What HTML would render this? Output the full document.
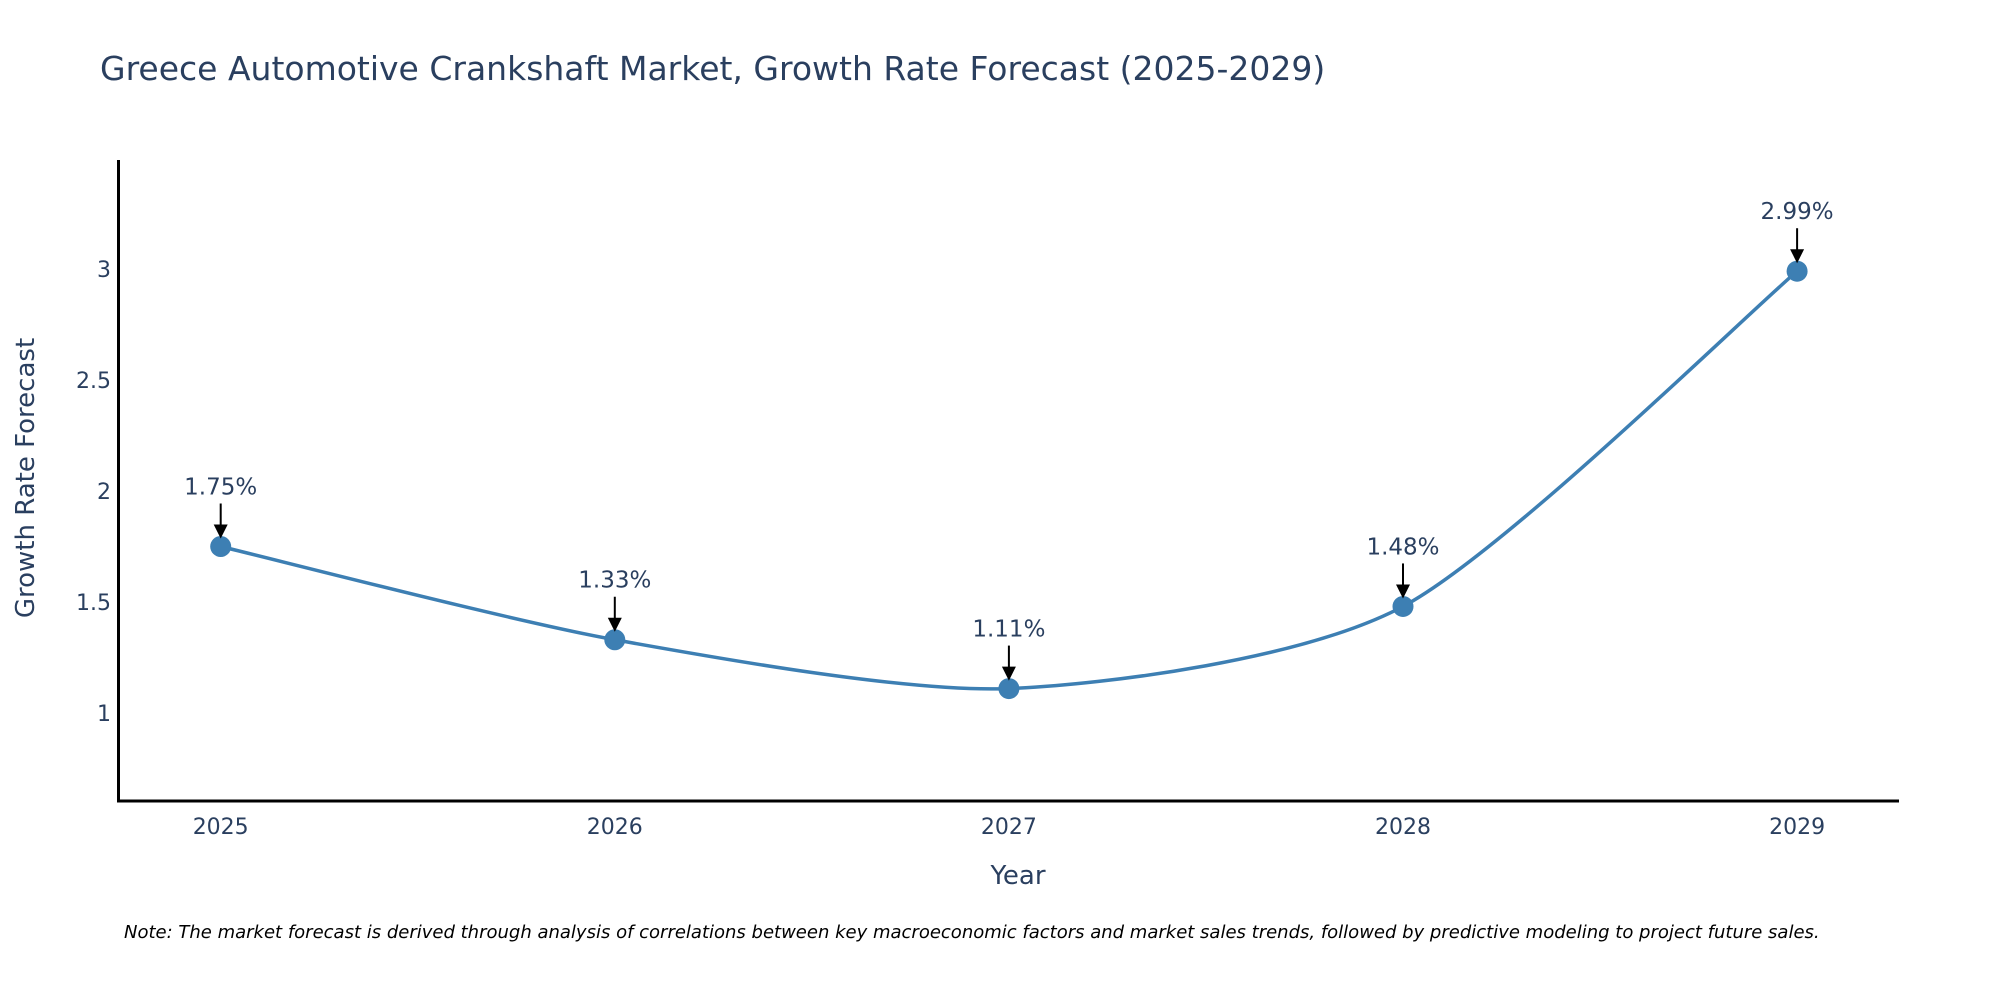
<!DOCTYPE html>
<html><head><meta charset="utf-8"><style>
html,body{margin:0;padding:0;background:#fff;}
svg{display:block;font-family:"DejaVu Sans","Liberation Sans",sans-serif;}
</style></head><body>
<svg id="chart" width="2000" height="1000" viewBox="0 0 2000 1000">
<text x="100" y="80" font-size="33" fill="#2a3f5f">Greece Automotive Crankshaft Market, Growth Rate Forecast (2025-2029)</text>
<g id="yticks"></g>
<g id="xticks"></g>
<line x1="118.5" y1="160" x2="118.5" y2="802" stroke="#000" stroke-width="3"/>
<line x1="117" y1="801" x2="1899" y2="801" stroke="#000" stroke-width="3"/>
<path id="line" fill="none" stroke="#3d7fb3" stroke-width="3.5"/>
<g id="points"></g>
<g id="annots"></g>
<text x="1018" y="884" font-size="26" fill="#2a3f5f" text-anchor="middle">Year</text>
<text transform="translate(34,478) rotate(-90)" font-size="26" fill="#2a3f5f" text-anchor="middle">Growth Rate Forecast</text>
<text x="124" y="938" font-size="18" font-style="italic" fill="#000">Note: The market forecast is derived through analysis of correlations between key macroeconomic factors and market sales trends, followed by predictive modeling to project future sales.</text>
</svg>
<script>
const years = [2025, 2026, 2027, 2028, 2029];
const values = [1.75, 1.33, 1.11, 1.48, 2.99];
const labels = ["1.75%", "1.33%", "1.11%", "1.48%", "2.99%"];
const yTicks = [1, 1.5, 2, 2.5, 3];

const NS = "http://www.w3.org/2000/svg";
function xs(v){ return 220.7 + (v - 2025) * 394.1; }
function ys(v){ return 713 - (v - 1) * 222; }
function mk(tag, attrs, parent, txt){
  const e = document.createElementNS(NS, tag);
  for (const k in attrs) e.setAttribute(k, attrs[k]);
  if (txt !== undefined) e.textContent = txt;
  parent.appendChild(e); return e;
}
const yt = document.getElementById('yticks');
yTicks.forEach(t => {
  const e = mk('text', {x: 111, y: ys(t) + 8, 'font-size': 22, fill: '#2a3f5f', 'text-anchor': 'end'}, yt, String(t));
  
  
});
const xt = document.getElementById('xticks');
years.forEach(y => {
  const e = mk('text', {x: xs(y), y: 834, 'font-size': 22, fill: '#2a3f5f', 'text-anchor': 'middle'}, xt, String(y));
  
  
});
const P = years.map((y, i) => [xs(y), ys(values[i])]);
const t = 0.38;
let d = `M${P[0][0]},${P[0][1]}`;
for (let i = 0; i < P.length - 1; i++) {
  const p0 = P[Math.max(0, i - 1)], p1 = P[i], p2 = P[i + 1], p3 = P[Math.min(P.length - 1, i + 2)];
  const c1 = [p1[0] + (p2[0] - p0[0]) * t / 3, p1[1] + (p2[1] - p0[1]) * t / 3];
  const c2 = [p2[0] - (p3[0] - p1[0]) * t / 3, p2[1] - (p3[1] - p1[1]) * t / 3];
  d += ` C${c1[0]},${c1[1]} ${c2[0]},${c2[1]} ${p2[0]},${p2[1]}`;
}
document.getElementById('line').setAttribute('d', d);
const pts = document.getElementById('points');
const an = document.getElementById('annots');
P.forEach((p, i) => {
  const c = mk('circle', {cx: p[0], cy: p[1], r: 10.5, fill: '#3d7fb3'}, pts);
  
  
  const l = mk('line', {x1: p[0], y1: p[1] - 43, x2: p[0], y2: p[1] - 20, stroke: '#000', 'stroke-width': 2}, an);
  
  
  const h = mk('polygon', {points: `${p[0]-7},${p[1]-22} ${p[0]+7},${p[1]-22} ${p[0]},${p[1]-8}`, fill: '#000'}, an);
  
  
  const tx = mk('text', {x: p[0], y: p[1] - 52, 'font-size': 23, fill: '#2a3f5f', 'text-anchor': 'middle'}, an, labels[i]);
  
  
});
</script>
</body></html>
